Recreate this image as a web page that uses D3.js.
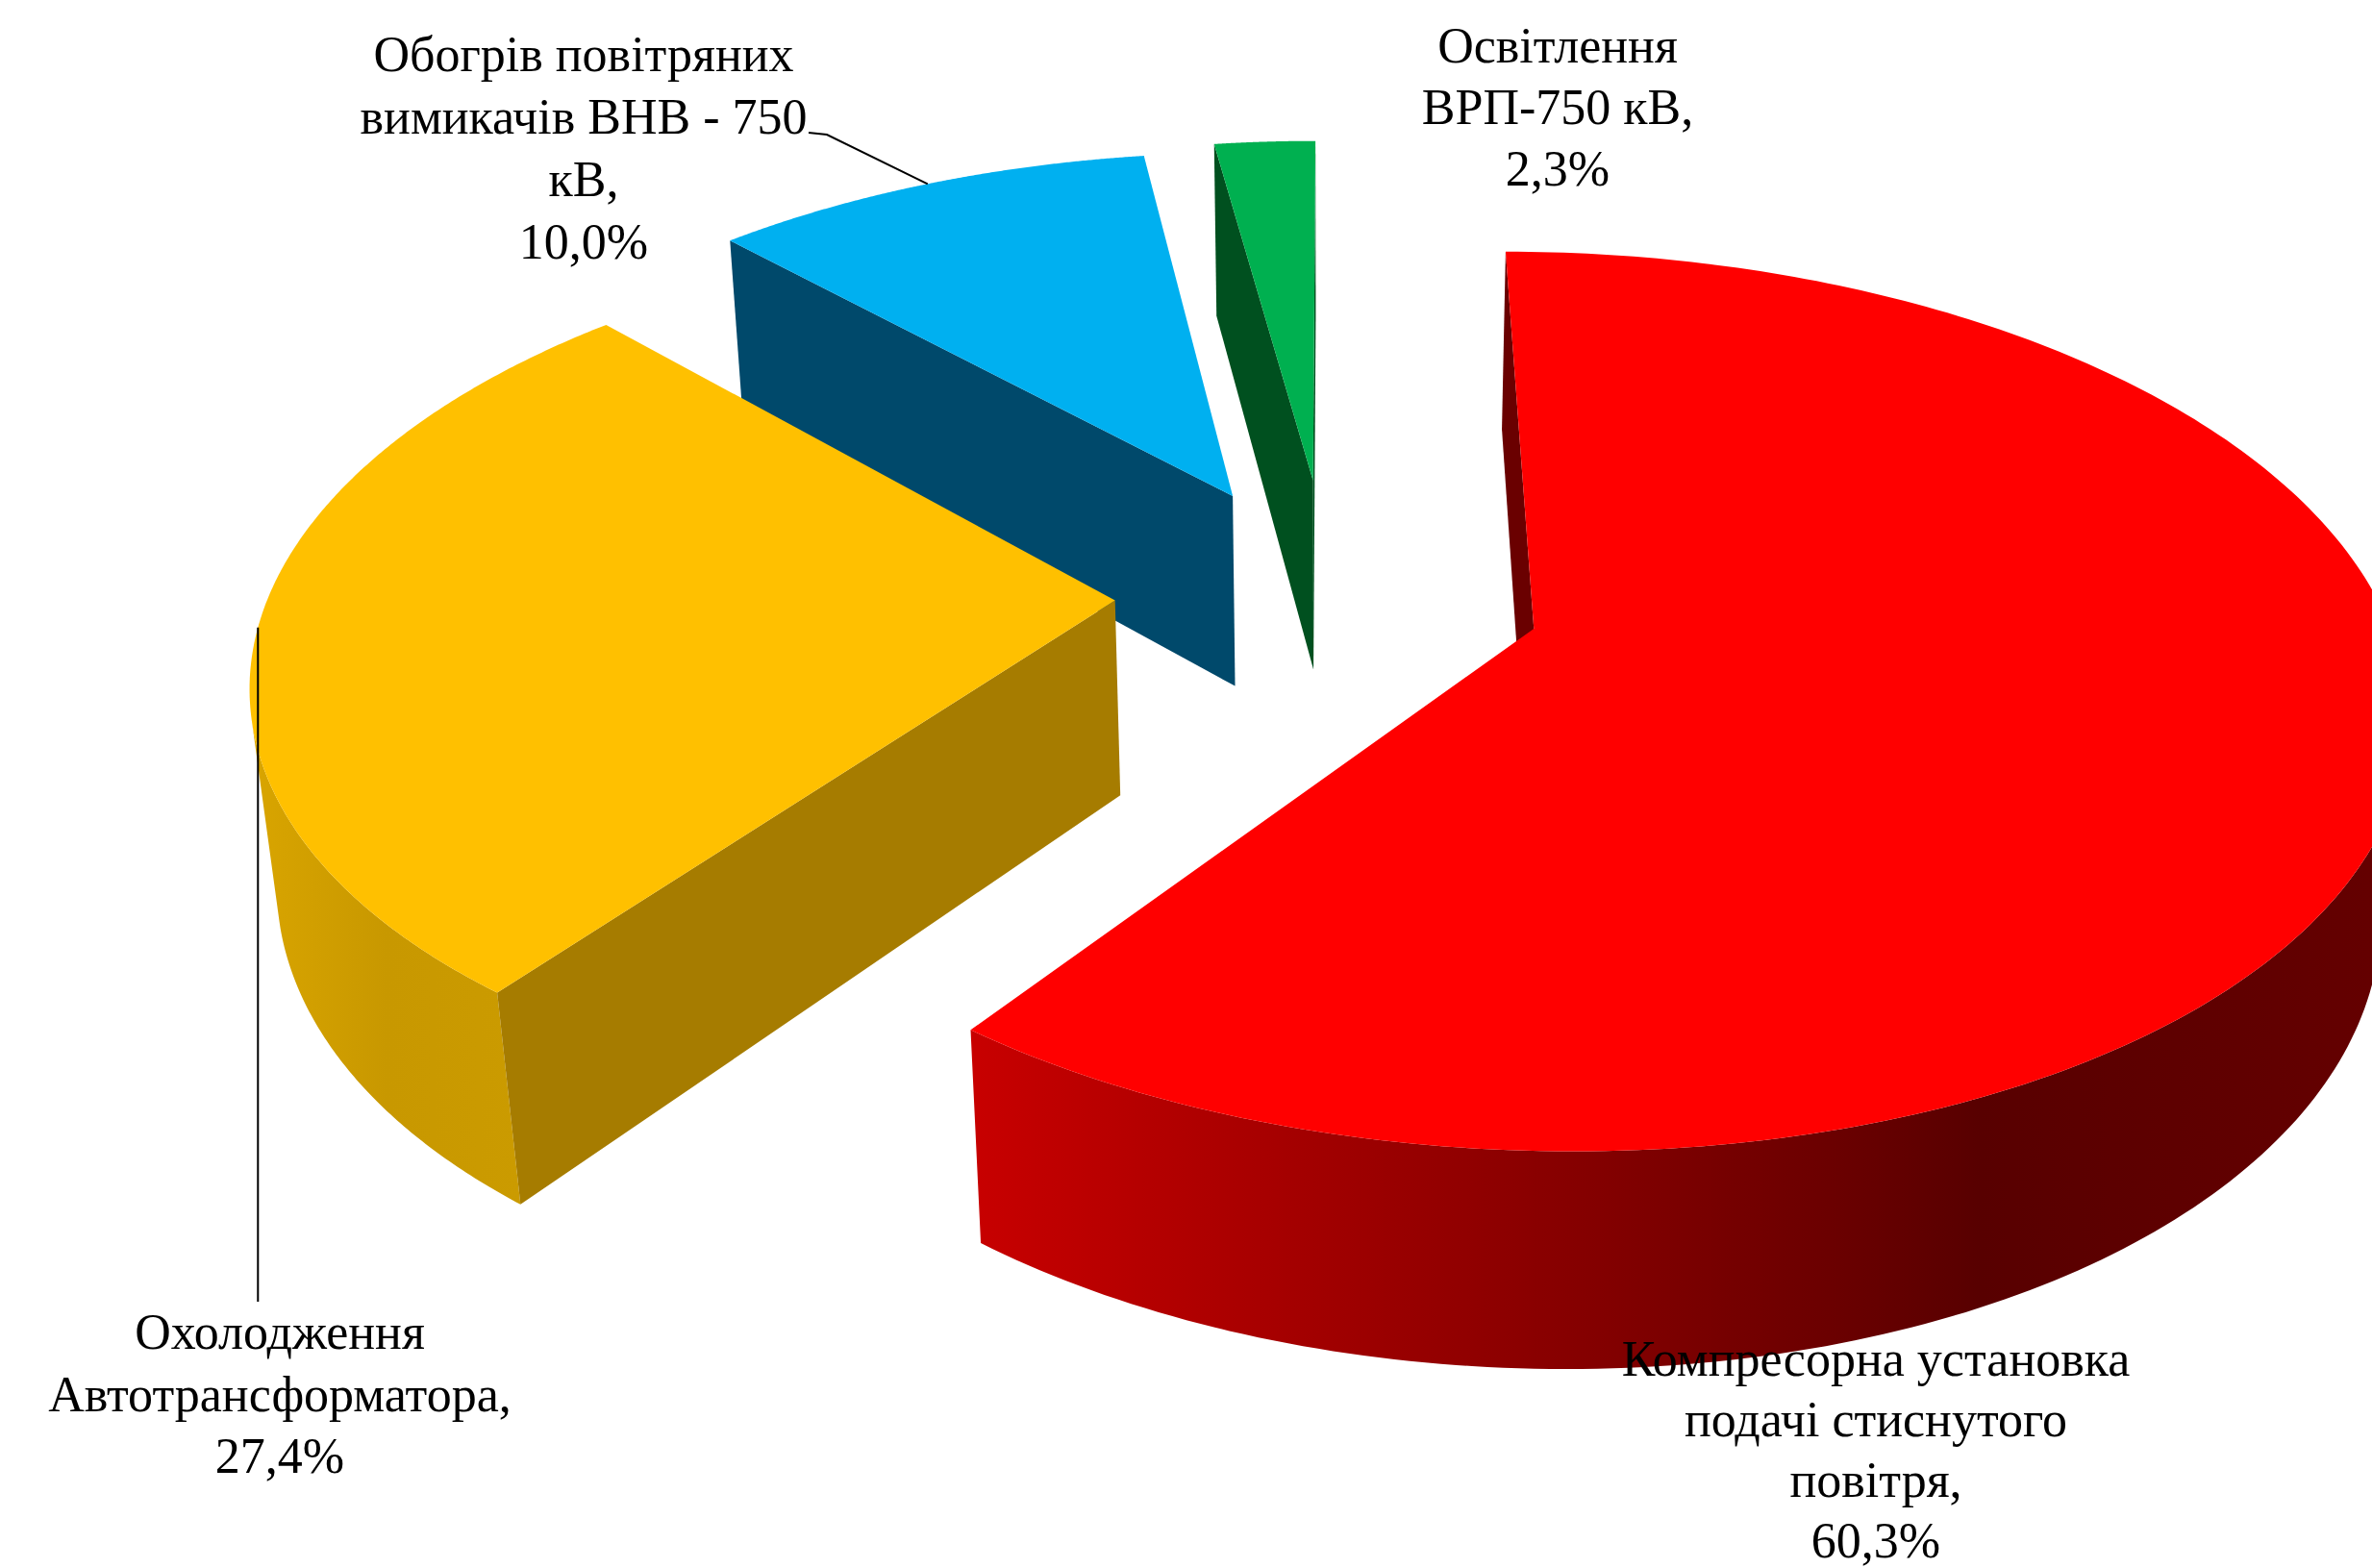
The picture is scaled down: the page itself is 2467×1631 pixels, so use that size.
<!DOCTYPE html>
<html>
<head>
<meta charset="utf-8">
<script src="https://cdn.jsdelivr.net/npm/d3@7"></script>
<style>
  html, body { margin: 0; padding: 0; background: #fff; overflow: hidden; }
  text { font-family: "Liberation Serif", serif; fill: #000; text-anchor: middle; }
</style>
</head>
<body>
<svg id="chart" width="2467" height="1631"></svg>
<script>
// Electricity consumption shares, clockwise from twelve o'clock
const categories = [
  ["Компресорна установка", "подачі стиснутого", "повітря,"],
  ["Охолодження", "Автотрансформатора,"],
  ["Обогрів повітряних", "вимикачів ВНВ - 750", "кВ,"],
  ["Освітлення", "ВРП-750 кВ,"]
];
const values = [60.3, 27.4, 10.0, 2.3];

// Presentation settings for each wedge, same order as the values
const topColors = ["#ff0000", "#ffc000", "#00b0f0", "#00b050"];
const wallColors = ["#6a0000", "#a67c00", "#00496b", "#00501f"];
const rimStops = [
  [[0, "#c80000"], [0.36, "#900000"], [0.62, "#6a0000"], [0.72, "#580000"], [1, "#640000"]],
  [[0, "#d9a500"], [0.5, "#c89800"], [1, "#cb9b00"]],
  [[0, "#00496b"], [1, "#00496b"]],
  [[0, "#00501f"], [1, "#00501f"]]
];
const rimSpans = [[1008, 2467], [260, 545], [750, 1290], [1260, 1370]];
const explode = [[0.2365, -0.072], [-0.2549, -0.0066], [-0.1208, 0.2464], [-0.0224, 0.2861]];
const labelCentres = [1951, 291, 607, 1620];
const labelBaselines = [1431, 1403, 74, 65];
const lineSteps = [63, 64.5, 65, 64];

// Perspective camera looking down on the pie plane (unit radius)
const cam = { cx: 1384.5, cy: 621.5, sx: 881, sy: 445.2, k: 0.16, drop: 207.7, sink: 0.025 };
function project(u, v, bottom) {
  const w = 1 + cam.k * v + (bottom ? cam.sink : 0);
  return [
    cam.cx + cam.sx * u / w,
    cam.cy + (-cam.sy * v + (bottom ? cam.drop : 0)) / w
  ];
}

const svg = d3.select("#chart");
const defs = svg.append("defs");
const closed = d3.line().curve(d3.curveLinearClosed);
const open = d3.line();

const arcs = d3.pie().sort(null).value(d => d)(values);
const percent = v => d3.format(".1f")(v).replace(".", ",") + "%";

function wedgeOuter(a, i, t, bottom) {
  return project(explode[i][0] + Math.sin(t), explode[i][1] + Math.cos(t), bottom);
}

// Painter's order: far wedges first, the large front wedge last
[3, 2, 1, 0].forEach(i => {
  const a = arcs[i];
  const g = svg.append("g");
  const apexT = project(explode[i][0], explode[i][1], false);
  const apexB = project(explode[i][0], explode[i][1], true);
  const angles = d3.range(0, 241).map(n => a.startAngle + (a.endAngle - a.startAngle) * n / 240);
  const topRim = angles.map(t => wedgeOuter(a, i, t, false));
  const botRim = angles.map(t => wedgeOuter(a, i, t, true));

  // Outer wall: only the rim samples that face the viewer
  const gid = "rim" + i;
  const grad = defs.append("linearGradient").attr("id", gid)
    .attr("gradientUnits", "userSpaceOnUse")
    .attr("x1", rimSpans[i][0]).attr("x2", rimSpans[i][1]).attr("y1", 0).attr("y2", 0);
  rimStops[i].forEach(s => grad.append("stop").attr("offset", s[0]).attr("stop-color", s[1]));
  const facing = d3.range(angles.length - 1).filter(n =>
    d3.polygonArea([topRim[n], topRim[n + 1], botRim[n + 1], botRim[n]]) > 0);
  if (facing.length) {
    const first = d3.min(facing), last = d3.max(facing) + 1;
    const poly = topRim.slice(first, last + 1).concat(botRim.slice(first, last + 1).reverse());
    g.append("path").attr("d", closed(poly)).attr("fill", "url(#" + gid + ")");
  }

  // Radial walls, culled by their winding on screen
  const startWall = [apexT, topRim[0], botRim[0], apexB];
  const endWall = [apexT, topRim[240], botRim[240], apexB];
  if (d3.polygonArea(startWall) > 0) g.append("path").attr("d", closed(startWall)).attr("fill", wallColors[i]);
  if (d3.polygonArea(endWall) < 0) g.append("path").attr("d", closed(endWall)).attr("fill", wallColors[i]);

  // Top face
  g.append("path").attr("d", closed([apexT].concat(topRim))).attr("fill", topColors[i]);
});

// Leader lines run from the middle of a wedge's rim to its label
const mid = i => wedgeOuter(arcs[i], i, (arcs[i].startAngle + arcs[i].endAngle) / 2, false);
const orangeRim = mid(1);
svg.append("path").attr("d", open([orangeRim, [orangeRim[0], 1354]]))
  .attr("fill", "none").attr("stroke", "#000").attr("stroke-width", 2);
svg.append("path").attr("d", open([[841, 138], [860, 140], mid(2)]))
  .attr("fill", "none").attr("stroke", "#000").attr("stroke-width", 2);

// Category labels with their shares on the last line
categories.forEach((lines, i) => {
  const all = lines.concat([percent(values[i])]);
  const t = svg.append("text").attr("font-size", 52);
  all.forEach((s, n) => {
    t.append("tspan").attr("x", labelCentres[i])
      .attr("y", labelBaselines[i] + n * lineSteps[i]).text(s);
  });
});
</script>
</body>
</html>
